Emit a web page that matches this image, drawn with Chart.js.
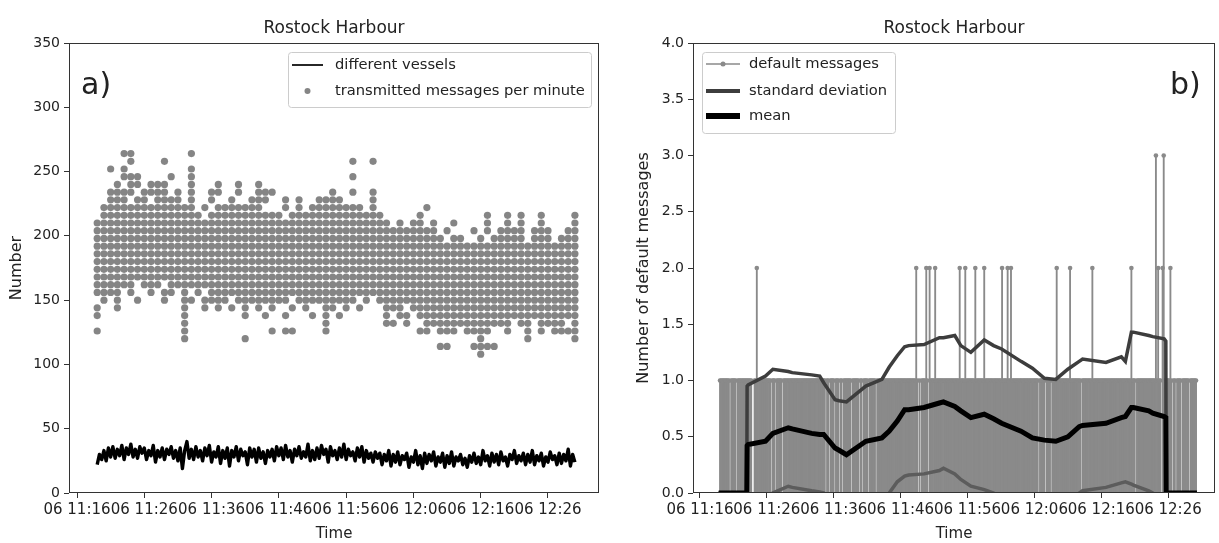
<!DOCTYPE html>
<html>
<head>
<meta charset="utf-8">
<script src="https://cdn.jsdelivr.net/npm/chart.js@4"></script>
<style>
body { margin: 0; background: #fff; width: 1219px; height: 543px; overflow: hidden; position: relative; }
#left { position: absolute; left: 0; top: 0; }
#right { position: absolute; left: 610px; top: 0; }
</style>
</head>
<body>
<canvas id="left" width="610" height="543"></canvas>
<canvas id="right" width="609" height="543"></canvas>
<script>
// times are minutes after 11:00 on day 06
var tickMinutes = [16, 26, 36, 46, 56, 66, 76, 86];

// PANEL A: transmitted messages per minute, one column of values per minute
var msgMinutes = [19, 20, 21, 22, 23, 24, 25, 26, 27, 28, 29, 30, 31, 32, 33, 34, 35, 36, 37, 38, 39, 40, 41, 42, 43, 44, 45, 46, 47, 48, 49, 50, 51, 52, 53, 54, 55, 56, 57, 58, 59, 60, 61, 62, 63, 64, 65, 66, 67, 68, 69, 70, 71, 72, 73, 74, 75, 76, 77, 78, 79, 80, 81, 82, 83, 84, 85, 86, 87, 88, 89, 90];
var msgValues = [
    [126, 138, 144, 156, 162, 168, 174, 180, 186, 192, 198, 204, 210],
    [150, 156, 162, 168, 174, 180, 186, 192, 198, 204, 210, 216, 222],
    [156, 162, 168, 174, 180, 186, 192, 198, 204, 210, 216, 222, 228, 234, 252],
    [144, 150, 156, 162, 168, 174, 180, 186, 192, 198, 204, 210, 216, 222, 228, 234, 240],
    [162, 168, 174, 180, 186, 192, 198, 204, 210, 216, 222, 228, 234, 246, 252, 264],
    [156, 162, 168, 174, 180, 186, 192, 198, 204, 210, 216, 222, 234, 240, 246, 258, 264],
    [150, 168, 174, 180, 186, 192, 198, 204, 210, 216, 222, 228, 240, 246],
    [162, 168, 174, 180, 186, 192, 198, 204, 210, 216, 222, 228, 234],
    [156, 162, 168, 174, 180, 186, 192, 198, 204, 210, 216, 222, 234, 240],
    [162, 168, 174, 180, 186, 192, 198, 204, 210, 216, 222, 228, 234, 240],
    [150, 156, 168, 174, 180, 186, 192, 198, 204, 210, 216, 222, 228, 234, 240, 258],
    [156, 162, 168, 174, 180, 186, 192, 198, 204, 210, 216, 222, 228, 246],
    [162, 168, 174, 180, 186, 192, 198, 204, 210, 216, 222, 228, 234],
    [120, 126, 132, 138, 144, 150, 156, 162, 168, 174, 180, 186, 192, 198, 204, 210, 216, 222],
    [150, 162, 168, 174, 180, 186, 192, 198, 204, 210, 216, 222, 228, 234, 240, 246, 252, 264],
    [156, 162, 168, 174, 180, 186, 192, 198, 204, 210, 216],
    [144, 150, 162, 168, 174, 180, 186, 192, 198, 204, 210, 222],
    [150, 156, 162, 168, 174, 180, 186, 192, 198, 204, 210, 216, 228, 234],
    [144, 150, 156, 162, 168, 174, 180, 186, 192, 198, 204, 210, 216, 222, 234, 240],
    [150, 156, 162, 168, 174, 180, 186, 192, 198, 204, 210, 216, 222],
    [144, 156, 162, 168, 174, 180, 186, 192, 198, 204, 210, 216, 222, 228],
    [150, 156, 162, 168, 174, 180, 186, 192, 198, 204, 210, 216, 222, 234, 240],
    [120, 138, 144, 150, 156, 162, 168, 174, 180, 186, 192, 198, 204, 210, 216, 222],
    [150, 156, 162, 168, 174, 180, 186, 192, 198, 204, 210, 216, 222, 228],
    [144, 150, 156, 162, 168, 174, 180, 186, 192, 198, 204, 210, 216, 222, 228, 234, 240],
    [138, 150, 156, 162, 168, 174, 180, 186, 192, 198, 204, 210, 216, 228, 234],
    [126, 144, 150, 156, 162, 168, 174, 180, 186, 192, 198, 204, 210, 216, 234],
    [150, 156, 162, 168, 174, 180, 186, 192, 198, 204, 210, 216],
    [126, 138, 150, 156, 162, 168, 174, 180, 186, 192, 198, 204, 210, 222, 228],
    [126, 144, 156, 162, 168, 174, 180, 186, 192, 198, 204, 210, 216],
    [150, 156, 162, 168, 174, 180, 186, 192, 198, 204, 210, 216, 222, 228],
    [144, 150, 156, 162, 168, 174, 180, 186, 192, 198, 204, 210, 216],
    [138, 150, 156, 162, 168, 174, 180, 186, 192, 198, 204, 210, 216, 222],
    [150, 156, 162, 168, 174, 180, 186, 192, 198, 204, 210, 216, 222, 228],
    [126, 132, 138, 144, 150, 156, 162, 168, 174, 180, 186, 192, 198, 204, 210, 216, 222, 228],
    [144, 150, 156, 162, 168, 174, 180, 186, 192, 198, 204, 210, 216, 222, 228, 234],
    [138, 150, 156, 162, 168, 174, 180, 186, 192, 198, 204, 210, 216, 222, 228],
    [144, 150, 156, 162, 168, 174, 180, 186, 192, 198, 204, 210, 216, 222],
    [150, 156, 162, 168, 174, 180, 186, 192, 198, 204, 210, 216, 222, 234, 246, 258],
    [144, 156, 162, 168, 174, 180, 186, 192, 198, 204, 210, 216, 222],
    [150, 156, 162, 168, 174, 180, 186, 192, 198, 204, 210, 216],
    [156, 162, 168, 174, 180, 186, 192, 198, 204, 210, 216, 222, 228, 234, 258],
    [150, 156, 162, 168, 174, 180, 186, 192, 198, 204, 210, 216],
    [132, 138, 144, 150, 156, 162, 168, 174, 180, 186, 192, 198, 204, 210],
    [132, 144, 150, 156, 162, 168, 174, 180, 186, 192, 198, 204],
    [138, 144, 150, 156, 162, 168, 174, 180, 186, 192, 198, 204, 210],
    [132, 138, 150, 156, 162, 168, 174, 180, 186, 192, 198, 204],
    [144, 150, 156, 162, 168, 174, 180, 186, 192, 198, 204, 210],
    [126, 138, 144, 150, 156, 162, 168, 174, 180, 186, 192, 198, 204, 210, 216],
    [126, 132, 138, 144, 150, 156, 162, 168, 174, 180, 186, 192, 198, 204, 222],
    [132, 138, 144, 150, 156, 162, 168, 174, 180, 186, 192, 198, 204, 210],
    [114, 126, 132, 138, 144, 150, 156, 162, 168, 174, 180, 186, 192, 198],
    [114, 126, 132, 138, 144, 150, 156, 162, 168, 174, 180, 186, 192, 204],
    [126, 132, 138, 144, 150, 156, 162, 168, 174, 180, 186, 192, 198, 210],
    [132, 138, 144, 150, 156, 162, 168, 174, 180, 186, 192, 198],
    [126, 132, 138, 144, 150, 156, 162, 168, 174, 180, 186, 192],
    [114, 126, 132, 138, 144, 150, 156, 162, 168, 174, 180, 186, 192, 204],
    [108, 114, 120, 126, 132, 138, 144, 150, 156, 162, 168, 174, 180, 186, 192, 198],
    [114, 126, 132, 138, 144, 150, 156, 162, 168, 174, 180, 186, 192, 204, 210, 216],
    [114, 132, 138, 144, 150, 156, 162, 168, 174, 180, 186, 192, 198],
    [132, 138, 144, 150, 156, 162, 168, 174, 180, 186, 192, 198, 204],
    [126, 132, 138, 144, 150, 156, 162, 168, 174, 180, 186, 192, 198, 204, 210, 216],
    [138, 144, 150, 156, 162, 168, 174, 180, 186, 192, 198, 204],
    [132, 138, 144, 150, 156, 162, 168, 174, 180, 186, 192, 198, 204, 210, 216],
    [120, 126, 132, 138, 144, 150, 156, 162, 168, 174, 180, 186, 192],
    [138, 144, 150, 156, 162, 168, 174, 180, 186, 192, 198, 204],
    [126, 132, 138, 144, 150, 156, 162, 168, 174, 180, 186, 192, 198, 204, 210, 216],
    [132, 138, 144, 150, 156, 162, 168, 174, 180, 186, 192, 198, 204],
    [126, 132, 138, 144, 150, 156, 162, 168, 174, 180, 186, 192],
    [126, 132, 138, 144, 150, 156, 162, 168, 174, 180, 186, 192, 198],
    [126, 138, 144, 150, 156, 162, 168, 174, 180, 186, 192, 198, 204],
    [120, 126, 132, 138, 144, 150, 156, 162, 168, 174, 180, 186, 192, 198, 204, 210, 216]
];

// different vessels, three readings per minute
var vesselMinutes = msgMinutes;
var vesselValues = [
    [22, 30, 26], [33, 25, 35], [28, 36, 27], [34, 29, 37], [26, 35, 30], [38, 28, 34],
    [27, 36, 31], [35, 26, 33], [29, 37, 24], [33, 28, 35], [26, 34, 30], [36, 27, 33],
    [25, 35, 19], [33, 40, 27], [34, 26, 36], [28, 33, 25], [35, 29, 37], [24, 32, 28],
    [36, 23, 33], [27, 35, 21], [33, 28, 36], [25, 34, 29], [32, 22, 35], [28, 34, 24],
    [35, 27, 32], [23, 33, 28], [34, 25, 36], [29, 35, 26], [37, 28, 33], [24, 34, 29],
    [36, 27, 32], [28, 38, 25], [33, 26, 35], [27, 37, 30], [34, 24, 36], [29, 33, 26],
    [35, 28, 38], [26, 34, 29], [32, 25, 35], [28, 36, 24], [33, 27, 31], [24, 32, 27],
    [31, 22, 30], [25, 33, 21], [30, 24, 32], [22, 29, 26], [31, 20, 28], [24, 33, 22],
    [29, 19, 31], [23, 30, 25], [32, 21, 28], [24, 31, 20], [29, 23, 32], [21, 28, 25],
    [30, 22, 27], [20, 29, 24], [31, 23, 28], [22, 33, 25], [29, 21, 31], [24, 30, 22],
    [32, 25, 28], [21, 30, 26], [33, 23, 29], [25, 31, 22], [30, 24, 33], [22, 29, 25],
    [31, 21, 28], [24, 32, 26], [29, 22, 31], [23, 30, 25], [34, 21, 30], [24]
];

// PANEL B: default messages, six 10-second slots per minute
var stemMinutes = msgMinutes;
var stemValues = [
    [1, 1, 1, 1, 1, 1], [1, 1, 1, 0, 1, 1], [1, 1, 1, 0, 1, 1], [1, 1, 1, 1, 1, 1], [1, 1, 1, 1, 1, 0], [0, 1, 1, 2, 1, 1],
    [1, 1, 1, 1, 1, 1], [1, 1, 1, 1, 0, 1], [1, 1, 0, 1, 1, 1], [1, 1, 0, 1, 1, 1], [1, 1, 1, 1, 1, 1], [1, 1, 1, 1, 1, 1],
    [1, 1, 1, 1, 1, 1], [1, 1, 1, 1, 1, 1], [1, 1, 1, 1, 1, 1], [1, 1, 1, 1, 1, 0], [1, 1, 0, 1, 1, 1], [1, 0, 1, 1, 1, 0],
    [1, 1, 0, 1, 1, 1], [1, 1, 1, 1, 0, 1], [1, 1, 1, 1, 1, 0], [1, 1, 0, 1, 1, 1], [1, 0, 1, 1, 1, 1], [1, 1, 0, 1, 1, 1],
    [1, 1, 1, 1, 1, 1], [1, 1, 1, 1, 1, 1], [1, 1, 1, 1, 1, 1], [1, 1, 1, 1, 1, 1], [1, 1, 1, 1, 1, 1], [1, 1, 2, 1, 0, 1],
    [0, 1, 1, 1, 1, 2], [1, 0, 2, 1, 1, 1], [1, 2, 1, 1, 1, 1], [1, 1, 1, 1, 1, 1], [1, 1, 1, 1, 1, 1], [1, 1, 1, 1, 1, 2],
    [1, 1, 1, 1, 2, 1], [1, 1, 1, 1, 1, 1], [1, 2, 1, 1, 1, 1], [1, 1, 1, 2, 1, 1], [1, 1, 1, 1, 1, 1], [1, 1, 1, 1, 1, 1],
    [1, 2, 1, 1, 1, 1], [2, 1, 1, 2, 1, 1], [1, 1, 1, 1, 1, 1], [1, 1, 1, 1, 1, 1], [1, 1, 1, 1, 1, 1], [1, 1, 1, 1, 0, 1],
    [1, 1, 1, 1, 0, 1], [1, 1, 1, 0, 1, 1], [1, 1, 2, 1, 1, 1], [1, 1, 1, 1, 1, 1], [1, 1, 2, 1, 1, 1], [1, 1, 1, 1, 1, 1],
    [0, 1, 1, 1, 1, 1], [1, 1, 1, 1, 2, 1], [1, 1, 1, 1, 1, 1], [1, 1, 1, 1, 1, 1], [1, 1, 1, 1, 1, 1], [1, 1, 1, 1, 1, 1],
    [1, 1, 1, 1, 1, 1], [1, 1, 1, 2, 1, 1], [1, 0, 1, 1, 1, 1], [1, 1, 1, 1, 1, 1], [1, 1, 1, 1, 1, 1], [1, 3, 1, 2, 1, 1],
    [0, 2, 3, 1, 1, 1], [1, 1, 2, 1, 0, 1], [1, 0, 1, 1, 1, 1], [0, 1, 1, 1, 1, 1], [1, 0, 1, 1, 1, 1], [1, 1]
];

// rolling statistics of default messages
var lineTimes = [18.8, 23.0, 23.05, 23.2, 25.8, 26.9, 29.2, 29.8, 32.7, 33.9, 34.5, 36.2, 36.8, 37.9, 40.8, 43.2, 44.3, 45.5, 46.6, 47.2, 49.5, 51.8, 52.4, 54.1, 55.0, 56.5, 58.5, 59.9, 61.1, 64.0, 65.7, 67.5, 69.2, 71.0, 72.7, 73.2, 76.7, 79.0, 79.6, 80.5, 80.8, 83.1, 83.7, 85.4, 85.65, 85.7, 90.3];
var stdValues = [0, 0, 0.95, 0.96, 1.04, 1.10, 1.08, 1.07, 1.05, 1.04, 0.98, 0.83, 0.82, 0.81, 0.95, 1.01, 1.12, 1.22, 1.30, 1.31, 1.32, 1.38, 1.38, 1.40, 1.31, 1.25, 1.36, 1.31, 1.28, 1.17, 1.11, 1.02, 1.01, 1.10, 1.17, 1.19, 1.16, 1.21, 1.17, 1.43, 1.43, 1.40, 1.39, 1.37, 1.35, 0, 0];
var meanValues = [0, 0, 0.42, 0.43, 0.46, 0.53, 0.58, 0.57, 0.53, 0.52, 0.52, 0.40, 0.38, 0.34, 0.46, 0.49, 0.55, 0.64, 0.74, 0.74, 0.76, 0.80, 0.81, 0.77, 0.73, 0.67, 0.70, 0.66, 0.62, 0.55, 0.49, 0.47, 0.46, 0.50, 0.59, 0.60, 0.62, 0.67, 0.68, 0.76, 0.76, 0.73, 0.71, 0.68, 0.67, 0, 0];
var lowerValues = [0, 0, -0.53, -0.53, -0.10, 0.0, 0.06, 0.05, 0.02, 0.01, 0.0, -0.30, -0.40, -0.45, -0.40, -0.30, 0.0, 0.10, 0.15, 0.16, 0.17, 0.20, 0.22, 0.17, 0.12, 0.06, 0.03, 0.0, -0.05, -0.30, -0.40, -0.50, -0.50, -0.40, 0.0, 0.02, 0.05, 0.09, 0.10, 0.08, 0.07, 0.02, 0.0, -0.20, -0.20, 0, 0];

Chart.defaults.font.family = '"DejaVu Sans", sans-serif';
Chart.defaults.color = '#222';

// frame, title, panel letter and legend box drawn over the plot
var panelDecor = {
    id: 'panelDecor',
    afterDraw: function (chart, args, opts) {
        var ctx = chart.ctx;
        var a = chart.chartArea;
        ctx.save();
        ctx.strokeStyle = '#333';
        ctx.lineWidth = 1;
        ctx.strokeRect(Math.round(a.left) + 0.5, Math.round(a.top) + 0.5, Math.round(a.right - a.left) - 1, Math.round(a.bottom - a.top) - 1);

        ctx.fillStyle = '#222';
        ctx.font = '17px "DejaVu Sans"';
        ctx.textAlign = 'center';
        ctx.textBaseline = 'alphabetic';
        ctx.fillText(opts.title, (a.left + a.right) / 2, 33);

        ctx.font = opts.letterSize + 'px "DejaVu Sans"';
        ctx.textAlign = 'left';
        ctx.fillText(opts.letter, opts.letterX, opts.letterY);

        var lg = opts.legend;
        ctx.beginPath();
        ctx.roundRect(lg.x + 0.5, lg.y + 0.5, lg.w, lg.h, 3);
        ctx.fillStyle = 'rgba(255,255,255,0.85)';
        ctx.fill();
        ctx.strokeStyle = '#cccccc';
        ctx.lineWidth = 1;
        ctx.stroke();
        lg.items.forEach(function (it) {
            if (it.line) {
                ctx.strokeStyle = it.color;
                ctx.lineWidth = it.line;
                ctx.beginPath();
                ctx.moveTo(lg.sx, it.y);
                ctx.lineTo(lg.sx + lg.sw, it.y);
                ctx.stroke();
            }
            if (it.dot) {
                ctx.fillStyle = it.color;
                ctx.beginPath();
                ctx.arc(lg.sx + lg.sw / 2, it.y, it.dot, 0, 2 * Math.PI);
                ctx.fill();
            }
            ctx.fillStyle = '#222';
            ctx.font = '14.7px "DejaVu Sans"';
            ctx.textBaseline = 'middle';
            ctx.fillText(it.label, lg.tx, it.y);
        });
        ctx.restore();
    }
};

function timeLabel(v) {
    var h = 11 + Math.floor(v / 60);
    var mm = v % 60;
    return '06 ' + h + ':' + (mm < 10 ? '0' : '') + mm;
}

function timeAxis(min, max) {
    return {
        type: 'linear',
        min: min,
        max: max,
        offset: false,
        afterBuildTicks: function (scale) {
            scale.ticks = tickMinutes.map(function (v) { return { value: v }; });
        },
        afterFit: function (scale) { scale.height = 50; },
        ticks: { autoSkip: false, maxRotation: 0, padding: 3, font: { size: 15 }, callback: timeLabel },
        grid: { offset: false, drawOnChartArea: false, drawTicks: true, tickLength: 5, color: '#333' },
        border: { display: false },
        title: { display: true, text: 'Time', font: { size: 15 }, padding: { top: 0, bottom: 0 } }
    };
}

function valueAxis(max, step, width, label, titlePad, fmt) {
    return {
        min: 0,
        max: max,
        afterFit: function (scale) { scale.width = width; },
        ticks: { stepSize: step, padding: 4, font: { size: 14 }, callback: fmt },
        grid: { drawOnChartArea: false, drawTicks: true, tickLength: 5, color: '#333' },
        border: { display: false },
        title: { display: true, text: label, font: { size: 16 }, padding: { top: titlePad, bottom: 0 } }
    };
}

// panel a
var msgPoints = [];
msgMinutes.forEach(function (m, i) {
    msgValues[i].forEach(function (v) { msgPoints.push({ x: m, y: v }); });
});
var vesselPoints = [];
vesselMinutes.forEach(function (m, i) {
    vesselValues[i].forEach(function (v, k) { vesselPoints.push({ x: m + k / 3, y: v }); });
});

new Chart(document.getElementById('left'), {
    type: 'scatter',
    data: {
        datasets: [{
            type: 'line',
            label: 'different vessels',
            data: vesselPoints,
            borderColor: '#000',
            borderWidth: 3.4,
            borderJoinStyle: 'round',
            pointRadius: 0,
            tension: 0
        }, {
            label: 'transmitted messages per minute',
            data: msgPoints,
            backgroundColor: '#858585',
            borderWidth: 0,
            pointRadius: 3.6
        }]
    },
    options: {
        responsive: false,
        animation: false,
        devicePixelRatio: 1,
        layout: { padding: { left: 0, right: 11, top: 43, bottom: 0 } },
        scales: {
            x: timeAxis(14.81, 93.58),
            y: valueAxis(350, 50, 69, 'Number', 7, function (v) { return v; })
        },
        plugins: {
            legend: { display: false },
            tooltip: { enabled: false },
            panelDecor: {
                title: 'Rostock Harbour',
                letter: 'a)', letterSize: 30, letterX: 81, letterY: 94,
                legend: {
                    x: 288, y: 52, w: 303, h: 55, sx: 292, sw: 31, tx: 335,
                    items: [
                        { label: 'different vessels', color: '#000', line: 1.7, y: 65 },
                        { label: 'transmitted messages per minute', color: '#858585', dot: 3, y: 91 }
                    ]
                }
            }
        }
    },
    plugins: [panelDecor]
});

// panel b
var stemPoints = [];
var markerPoints = [];
stemMinutes.forEach(function (m, i) {
    stemValues[i].forEach(function (v, k) {
        stemPoints.push({ x: m + k / 6, y: v });
        if (v > 0) markerPoints.push({ x: m + k / 6, y: v });
    });
});
function linePoints(vals) {
    return lineTimes.map(function (t, i) { return { x: t, y: vals[i] }; });
}

new Chart(document.getElementById('right'), {
    type: 'bar',
    data: {
        datasets: [{
            type: 'line', label: 'mean', data: linePoints(meanValues),
            borderColor: '#000', borderWidth: 5, pointRadius: 0, tension: 0, clip: 0, order: 1
        }, {
            type: 'line', label: 'standard deviation', data: linePoints(stdValues),
            borderColor: '#3d3d3d', borderWidth: 3.5, pointRadius: 0, tension: 0, clip: 0, order: 2
        }, {
            type: 'line', label: 'mean - std', data: linePoints(lowerValues),
            borderColor: '#5c5c5c', borderWidth: 3.5, pointRadius: 0, tension: 0, clip: 0, order: 3
        }, {
            type: 'line', label: 'default messages', data: markerPoints, showLine: false,
            pointRadius: 2.3, pointBackgroundColor: '#8a8a8a', pointBorderWidth: 0, order: 4
        }, {
            type: 'bar', label: 'stems', data: stemPoints,
            backgroundColor: '#8a8a8a', barThickness: 1.2, grouped: false, order: 5
        }]
    },
    options: {
        responsive: false,
        animation: false,
        devicePixelRatio: 1,
        layout: { padding: { left: 0, right: 2, top: 43, bottom: 0 } },
        scales: {
            x: timeAxis(14.96, 93.0),
            y: valueAxis(4, 0.5, 83, 'Number of default messages', 24, function (v) { return v.toFixed(1); })
        },
        plugins: {
            legend: { display: false },
            tooltip: { enabled: false },
            panelDecor: {
                title: 'Rostock Harbour',
                letter: 'b)', letterSize: 30, letterX: 560, letterY: 94,
                legend: {
                    x: 92, y: 52, w: 193, h: 81, sx: 96, sw: 34, tx: 139,
                    items: [
                        { label: 'default messages', color: '#8a8a8a', line: 1.5, dot: 2.5, y: 64 },
                        { label: 'standard deviation', color: '#3d3d3d', line: 4, y: 91 },
                        { label: 'mean', color: '#000', line: 6, y: 116 }
                    ]
                }
            }
        }
    },
    plugins: [panelDecor]
});
</script>
</body>
</html>
